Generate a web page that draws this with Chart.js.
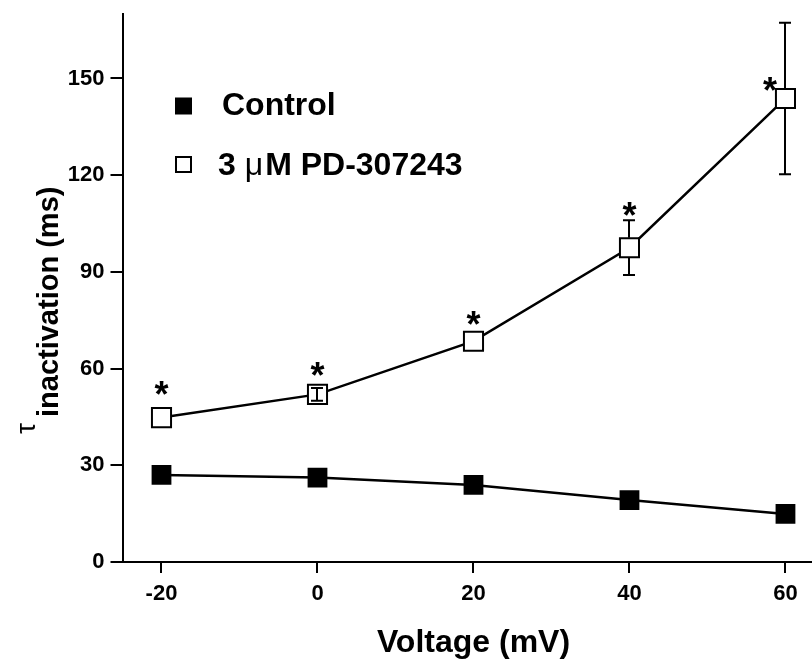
<!DOCTYPE html>
<html><head><meta charset="utf-8">
<script src="https://cdn.jsdelivr.net/npm/chart.js@4"></script>
<style>html,body{margin:0;padding:0;background:#fff;overflow:hidden}#wrap{width:812px;height:662px;position:relative}canvas{display:block}</style>
</head><body><div id="wrap"><canvas id="c" width="812" height="662"></canvas></div>
<script>
// ---- data ----
const voltages = [-20, 0, 20, 40, 60];
const controlTau = [27, 26.2, 23.9, 19.2, 14.9];
const pdTau = [44.8, 52, 68.5, 97.5, 143.8];
const pdErr = [0, 2, 0, 8.5, 23.5];
const sigX = [-20, 0, 20, 40, 58];
const sigY = [53.9, 59.8, 75.6, 109.4, 148.4];
const xTicks = [-20, 0, 20, 40, 60];
const yTicks = [0, 30, 60, 90, 120, 150];
const seriesNames = ['Control', '3 \u03BCM PD-307243'];
const xTitle = 'Voltage (mV)';
const yTitleSymbol = '\u03C4';
const yTitleRest = 'inactivation (ms)';

const FONT = '"Liberation Sans", Arial, Helvetica, sans-serif';

const extras = {
  id: 'extras',
  afterDatasetsDraw(chart) {
    const ctx = chart.ctx, xs = chart.scales.x, ys = chart.scales.y;
    const meta = chart.getDatasetMeta(1);
    ctx.save();
    ctx.strokeStyle = '#000'; ctx.lineWidth = 2;
    const half = 10;
    meta.data.forEach((pt, i) => {
      const e = pdErr[i]; if (!e) return;
      const x = Math.round(pt.x), y = pt.y;
      const yt = ys.getPixelForValue(pdTau[i] + e), yb = ys.getPixelForValue(pdTau[i] - e);
      ctx.beginPath();
      if (y - yt > half) {
        ctx.moveTo(x, y - half); ctx.lineTo(x, yt);
        ctx.moveTo(x, y + half); ctx.lineTo(x, yb);
      } else { ctx.moveTo(x, yt); ctx.lineTo(x, yb); }
      ctx.moveTo(x - 6, yt); ctx.lineTo(x + 6, yt);
      ctx.moveTo(x - 6, yb); ctx.lineTo(x + 6, yb);
      ctx.stroke();
    });
    ctx.fillStyle = '#000';
    ctx.font = 'bold 36px ' + FONT;
    ctx.textAlign = 'center'; ctx.textBaseline = 'alphabetic';
    const m = ctx.measureText('*');
    const off = (m.actualBoundingBoxAscent - m.actualBoundingBoxDescent) / 2;
    sigX.forEach((v, i) => {
      ctx.fillText('*', xs.getPixelForValue(v), ys.getPixelForValue(sigY[i]) + off);
    });
    ctx.restore();
  },
  afterDraw(chart) {
    const ctx = chart.ctx, xs = chart.scales.x, ca = chart.chartArea;
    ctx.save();
    ctx.fillStyle = '#000'; ctx.strokeStyle = '#000';
    const lx = ca.left + 61;
    ctx.fillRect(lx - 8.5, 97.5, 17, 17);
    ctx.lineWidth = 2;
    ctx.fillStyle = '#fff'; ctx.fillRect(lx - 7.5, 157, 15, 15);
    ctx.strokeRect(lx - 7.5, 157, 15, 15);
    ctx.fillStyle = '#000';
    ctx.textAlign = 'left'; ctx.textBaseline = 'alphabetic';
    ctx.font = 'bold 32px ' + FONT;
    ctx.fillText(seriesNames[0], 222, 115);
    let tx = 218;
    const parts = [['bold', '3 '], ['normal', '\u03BC'], ['bold', 'M PD-307243']];
    parts.forEach(([w, s]) => {
      ctx.font = w + ' 32px ' + FONT;
      ctx.fillText(s, tx, 175);
      tx += ctx.measureText(s).width + (w === 'normal' ? 2 : 0);
    });
    ctx.textAlign = 'center';
    ctx.font = 'bold 32px ' + FONT;
    ctx.fillText(xTitle, xs.getPixelForValue(20), 652);
    ctx.save();
    ctx.translate(35, 434); ctx.rotate(-Math.PI / 2);
    ctx.textAlign = 'left';
    ctx.font = 'normal 28px ' + FONT;
    ctx.fillText(yTitleSymbol, 0, 0);
    ctx.restore();
    ctx.save();
    ctx.translate(58, 417); ctx.rotate(-Math.PI / 2);
    ctx.textAlign = 'left';
    ctx.font = 'bold 29px ' + FONT;
    ctx.fillText(yTitleRest, 0, 0);
    ctx.restore();
    ctx.restore();
  }
};

const pts = (ys) => voltages.map((v, i) => ({ x: v, y: ys[i] }));

new Chart(document.getElementById('c'), {
  type: 'scatter',
  data: {
    datasets: [
      { label: seriesNames[0], data: pts(controlTau), showLine: true,
        borderColor: '#000', borderWidth: 2.5, backgroundColor: '#000',
        pointStyle: 'rect', pointRadius: 14, pointBorderWidth: 0, pointBackgroundColor: '#000',
        pointHoverRadius: 14 },
      { label: seriesNames[1], data: pts(pdTau), showLine: true,
        borderColor: '#000', borderWidth: 2.5, backgroundColor: '#fff',
        pointStyle: 'rect', pointRadius: 13.5, pointBorderWidth: 2, pointBorderColor: '#000',
        pointBackgroundColor: '#fff', pointHoverRadius: 13.5 }
    ]
  },
  options: {
    responsive: false, animation: false, events: [],
    layout: { autoPadding: false, padding: { top: 14, right: 0, bottom: 0, left: 0 } },
    plugins: { legend: { display: false }, tooltip: { enabled: false }, title: { display: false } },
    scales: {
      x: {
        type: 'linear', min: -25, max: 63.4,
        afterFit: (s) => { s.height = 100; s.paddingLeft = 0; s.paddingRight = 0; },
        afterBuildTicks: (s) => { s.ticks = xTicks.map(v => ({ value: v })); },
        grid: { drawOnChartArea: false, drawTicks: true, tickLength: 11, color: '#000', lineWidth: 2 },
        border: { display: true, color: '#000', width: 2 },
        ticks: { color: '#000', padding: 8, font: { family: FONT, size: 22, weight: 'bold' } }
      },
      y: {
        type: 'linear', min: 0, max: 170,
        afterFit: (s) => { s.width = 122.5; s.paddingTop = 0; s.paddingBottom = 0; },
        afterBuildTicks: (s) => { s.ticks = yTicks.map(v => ({ value: v })); },
        grid: { drawOnChartArea: false, drawTicks: true, tickLength: 12, color: '#000', lineWidth: 2 },
        border: { display: true, color: '#000', width: 2 },
        ticks: { color: '#000', padding: 6, font: { family: FONT, size: 22, weight: 'bold' } }
      }
    }
  },
  plugins: [extras]
});
</script></body></html>
